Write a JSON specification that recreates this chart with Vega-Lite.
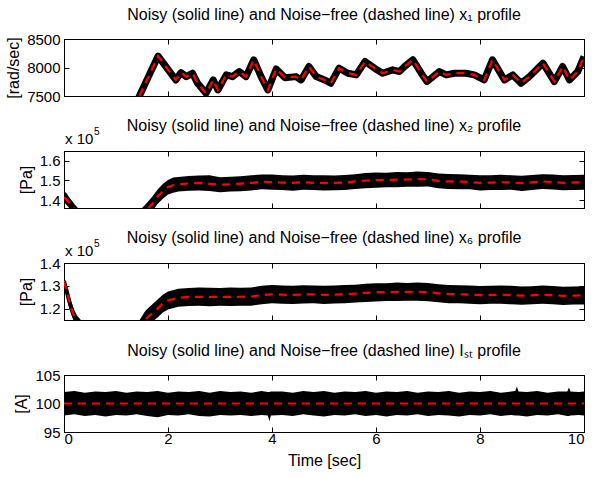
{
  "$schema": "https://vega.github.io/schema/vega-lite/v6.json",
  "padding": {"left": 5, "top": 6, "right": 0, "bottom": 0},
  "background": "white",
  "bounds": "flush",
  "spacing": 55,
  "config": {
    "view": {"stroke": "black", "strokeWidth": 1},
    "font": "Liberation Sans",
    "title": {"font": "Liberation Sans", "fontSize": 16, "fontWeight": "normal", "color": "black"},
    "axis": {"domainColor": "black", "tickColor": "black", "labelColor": "black", "titleColor": "black", "labelFont": "Liberation Sans", "titleFont": "Liberation Sans", "labelFontSize": 15, "titleFontSize": 16, "titleFontWeight": "normal", "grid": false, "tickSize": -5, "labelPadding": 9, "titlePadding": 5, "minExtent": 0},
    "axisY": {"minExtent": 0}
  },
  "datasets": {
    "p1": [
      {"t": 0, "v": 7000}, {"t": 1.38, "v": 7350}, {"t": 1.45, "v": 7500}, {"t": 1.81, "v": 8200}, {"t": 2.15, "v": 7782}, {"t": 2.25, "v": 7911}, {"t": 2.35, "v": 7840}, {"t": 2.47, "v": 7900}, {"t": 2.57, "v": 7723}, {"t": 2.73, "v": 7547}, {"t": 2.87, "v": 7782}, {"t": 2.96, "v": 7606}, {"t": 3.12, "v": 7870}, {"t": 3.24, "v": 7840}, {"t": 3.37, "v": 7929}, {"t": 3.5, "v": 7840}, {"t": 3.65, "v": 8135}, {"t": 3.79, "v": 7840}, {"t": 3.92, "v": 7606}, {"t": 4.08, "v": 7975}, {"t": 4.25, "v": 7820}, {"t": 4.46, "v": 7840}, {"t": 4.56, "v": 7782}, {"t": 4.71, "v": 8017}, {"t": 4.85, "v": 7840}, {"t": 5.01, "v": 7782}, {"t": 5.13, "v": 7723}, {"t": 5.29, "v": 7988}, {"t": 5.46, "v": 7900}, {"t": 5.62, "v": 7870}, {"t": 5.79, "v": 8105}, {"t": 5.97, "v": 7988}, {"t": 6.13, "v": 7900}, {"t": 6.32, "v": 7959}, {"t": 6.45, "v": 7929}, {"t": 6.55, "v": 8017}, {"t": 6.71, "v": 8135}, {"t": 6.87, "v": 7900}, {"t": 6.98, "v": 7752}, {"t": 7.22, "v": 7929}, {"t": 7.35, "v": 7870}, {"t": 7.51, "v": 7900}, {"t": 7.73, "v": 7900}, {"t": 7.89, "v": 7870}, {"t": 8.08, "v": 7782}, {"t": 8.24, "v": 8135}, {"t": 8.47, "v": 7782}, {"t": 8.63, "v": 7870}, {"t": 8.79, "v": 7723}, {"t": 8.95, "v": 7840}, {"t": 9.21, "v": 8076}, {"t": 9.43, "v": 7752}, {"t": 9.59, "v": 8017}, {"t": 9.72, "v": 7782}, {"t": 9.88, "v": 7929}, {"t": 10.0, "v": 8193}
    ],
    "p2": [
      {"t": 0, "v": 141500, "lo": 139000, "hi": 144500}, {"t": 0.05, "v": 140300, "lo": 137500, "hi": 143500}, {"t": 0.1, "v": 138700, "lo": 136000, "hi": 141500}, {"t": 0.15, "v": 137000, "lo": 134500, "hi": 139800}, {"t": 0.2, "v": 135300, "lo": 132500, "hi": 138000}, {"t": 0.3, "v": 132000, "lo": 129000, "hi": 135000}, {"t": 0.8, "v": 128000, "lo": 125000, "hi": 131000}, {"t": 1.3, "v": 130000, "lo": 127000, "hi": 133000}, {"t": 1.5, "v": 133000, "lo": 130000, "hi": 136000},
      {"t": 1.6, "v": 135200, "lo": 132000, "hi": 138800}, {"t": 1.7, "v": 138200, "lo": 134600, "hi": 141900}, {"t": 1.8, "v": 141800, "lo": 138000, "hi": 145400}, {"t": 1.9, "v": 144600, "lo": 140700, "hi": 148200}, {"t": 2.0, "v": 146700, "lo": 142900, "hi": 150300}, {"t": 2.1, "v": 147600, "lo": 143700, "hi": 151500}, {"t": 2.2, "v": 148100, "lo": 144400, "hi": 151800}, {"t": 2.4, "v": 148500, "lo": 144800, "hi": 152300}, {"t": 2.6, "v": 148800, "lo": 144900, "hi": 152500}, {"t": 2.8, "v": 148300, "lo": 144600, "hi": 152600}, {"t": 3.0, "v": 147900, "lo": 144000, "hi": 151700}, {"t": 3.2, "v": 148100, "lo": 144400, "hi": 151900}, {"t": 3.4, "v": 148400, "lo": 144500, "hi": 152100}, {"t": 3.6, "v": 148700, "lo": 144900, "hi": 152600}, {"t": 3.8, "v": 149400, "lo": 145600, "hi": 153100}, {"t": 4.0, "v": 149200, "lo": 145300, "hi": 153000}, {"t": 4.2, "v": 148900, "lo": 145100, "hi": 152700}, {"t": 4.4, "v": 148800, "lo": 144800, "hi": 152500}, {"t": 4.6, "v": 149100, "lo": 145300, "hi": 152900}, {"t": 4.8, "v": 148800, "lo": 145100, "hi": 152600}, {"t": 5.0, "v": 148800, "lo": 144900, "hi": 152700}, {"t": 5.2, "v": 148800, "lo": 145000, "hi": 152500}, {"t": 5.4, "v": 148900, "lo": 145200, "hi": 152800}, {"t": 5.6, "v": 149500, "lo": 145700, "hi": 153200}, {"t": 5.8, "v": 150000, "lo": 146100, "hi": 153800}, {"t": 6.0, "v": 150200, "lo": 146300, "hi": 154000}, {"t": 6.2, "v": 150300, "lo": 146600, "hi": 153900}, {"t": 6.4, "v": 150400, "lo": 146600, "hi": 154300}, {"t": 6.6, "v": 150500, "lo": 146800, "hi": 154200}, {"t": 6.8, "v": 150700, "lo": 146800, "hi": 154600}, {"t": 7.0, "v": 150600, "lo": 146900, "hi": 154300}, {"t": 7.2, "v": 149800, "lo": 146000, "hi": 153500}, {"t": 7.4, "v": 149500, "lo": 145700, "hi": 153300}, {"t": 7.6, "v": 149500, "lo": 145600, "hi": 153200}, {"t": 7.8, "v": 149200, "lo": 145500, "hi": 152900}, {"t": 8.0, "v": 148800, "lo": 144900, "hi": 152600}, {"t": 8.2, "v": 148900, "lo": 145200, "hi": 152600}, {"t": 8.4, "v": 149100, "lo": 145200, "hi": 152900}, {"t": 8.6, "v": 149000, "lo": 145300, "hi": 152700}, {"t": 8.8, "v": 148600, "lo": 144700, "hi": 152400}, {"t": 9.0, "v": 149000, "lo": 145200, "hi": 152800}, {"t": 9.2, "v": 149500, "lo": 145700, "hi": 153200}, {"t": 9.4, "v": 149200, "lo": 145400, "hi": 153000}, {"t": 9.6, "v": 148800, "lo": 145000, "hi": 152600}, {"t": 9.8, "v": 149000, "lo": 145100, "hi": 152800}, {"t": 10.0, "v": 149100, "lo": 145300, "hi": 152900}
    ],
    "p3": [
      {"t": 0, "v": 132000, "lo": 129500, "hi": 134500}, {"t": 0.05, "v": 127800, "lo": 125000, "hi": 130500}, {"t": 0.1, "v": 123300, "lo": 120500, "hi": 126000}, {"t": 0.15, "v": 119500, "lo": 116800, "hi": 122300}, {"t": 0.2, "v": 116500, "lo": 113800, "hi": 119300}, {"t": 0.25, "v": 114000, "lo": 111000, "hi": 117000}, {"t": 0.4, "v": 110000, "lo": 107000, "hi": 113000}, {"t": 1.0, "v": 106000, "lo": 103000, "hi": 109000}, {"t": 1.4, "v": 110000, "lo": 107000, "hi": 113000},
      {"t": 1.55, "v": 115000, "lo": 111500, "hi": 118500}, {"t": 1.6, "v": 116000, "lo": 112400, "hi": 119800}, {"t": 1.7, "v": 118000, "lo": 114200, "hi": 121900}, {"t": 1.8, "v": 120000, "lo": 116100, "hi": 124000}, {"t": 1.9, "v": 122200, "lo": 118300, "hi": 126100}, {"t": 2.0, "v": 123600, "lo": 119600, "hi": 127500}, {"t": 2.2, "v": 124700, "lo": 120800, "hi": 128700}, {"t": 2.4, "v": 125100, "lo": 121100, "hi": 129000}, {"t": 2.6, "v": 125200, "lo": 121200, "hi": 129300}, {"t": 2.8, "v": 125100, "lo": 121000, "hi": 129100}, {"t": 3.0, "v": 125100, "lo": 121200, "hi": 129000}, {"t": 3.2, "v": 125100, "lo": 121100, "hi": 129200}, {"t": 3.4, "v": 125200, "lo": 121300, "hi": 129100}, {"t": 3.6, "v": 125300, "lo": 121300, "hi": 129300}, {"t": 3.8, "v": 125900, "lo": 121900, "hi": 130000}, {"t": 4.0, "v": 126300, "lo": 122300, "hi": 130300}, {"t": 4.2, "v": 126100, "lo": 122100, "hi": 130100}, {"t": 4.4, "v": 126000, "lo": 122000, "hi": 130000}, {"t": 4.6, "v": 126200, "lo": 122200, "hi": 130200}, {"t": 4.8, "v": 126200, "lo": 122300, "hi": 130100}, {"t": 5.0, "v": 126000, "lo": 122000, "hi": 130000}, {"t": 5.2, "v": 126100, "lo": 122200, "hi": 130100}, {"t": 5.4, "v": 126300, "lo": 122300, "hi": 130300}, {"t": 5.6, "v": 126600, "lo": 122700, "hi": 130500}, {"t": 5.8, "v": 126900, "lo": 122900, "hi": 130900}, {"t": 6.0, "v": 127100, "lo": 123100, "hi": 131100}, {"t": 6.2, "v": 127200, "lo": 123300, "hi": 131100}, {"t": 6.4, "v": 127300, "lo": 123300, "hi": 131400}, {"t": 6.6, "v": 127300, "lo": 123400, "hi": 131200}, {"t": 6.8, "v": 127400, "lo": 123400, "hi": 131500}, {"t": 7.0, "v": 127200, "lo": 123200, "hi": 131200}, {"t": 7.2, "v": 126700, "lo": 122800, "hi": 130700}, {"t": 7.4, "v": 126400, "lo": 122400, "hi": 130400}, {"t": 7.6, "v": 126300, "lo": 122400, "hi": 130200}, {"t": 7.8, "v": 126100, "lo": 122100, "hi": 130100}, {"t": 8.0, "v": 125900, "lo": 121900, "hi": 129900}, {"t": 8.2, "v": 126000, "lo": 122100, "hi": 130000}, {"t": 8.4, "v": 126100, "lo": 122100, "hi": 130100}, {"t": 8.6, "v": 125900, "lo": 121900, "hi": 130000}, {"t": 8.8, "v": 125700, "lo": 121700, "hi": 129700}, {"t": 9.0, "v": 125800, "lo": 121900, "hi": 129800}, {"t": 9.2, "v": 126100, "lo": 122100, "hi": 130100}, {"t": 9.4, "v": 125900, "lo": 121900, "hi": 129900}, {"t": 9.6, "v": 125600, "lo": 121600, "hi": 129600}, {"t": 9.8, "v": 125700, "lo": 121800, "hi": 129700}, {"t": 10.0, "v": 125800, "lo": 121800, "hi": 129800}
    ],
    "p4": [
      {"t": 0, "v": 100, "lo": 97.9, "hi": 102.0}, {"t": 0.2, "v": 100, "lo": 98.1, "hi": 102.2}, {"t": 0.4, "v": 100, "lo": 97.8, "hi": 101.9}, {"t": 0.6, "v": 100, "lo": 98.0, "hi": 102.1}, {"t": 0.8, "v": 100, "lo": 97.7, "hi": 102.0}, {"t": 1.0, "v": 100, "lo": 98.0, "hi": 102.2}, {"t": 1.2, "v": 100, "lo": 97.9, "hi": 101.9}, {"t": 1.4, "v": 100, "lo": 98.1, "hi": 102.1}, {"t": 1.6, "v": 100, "lo": 97.8, "hi": 102.0}, {"t": 1.8, "v": 100, "lo": 97.6, "hi": 102.2}, {"t": 2.0, "v": 100, "lo": 98.0, "hi": 101.9}, {"t": 2.2, "v": 100, "lo": 97.9, "hi": 102.1}, {"t": 2.4, "v": 100, "lo": 98.1, "hi": 102.0}, {"t": 2.6, "v": 100, "lo": 97.8, "hi": 102.2}, {"t": 2.8, "v": 100, "lo": 97.7, "hi": 101.9}, {"t": 3.0, "v": 100, "lo": 98.0, "hi": 102.2}, {"t": 3.2, "v": 100, "lo": 97.9, "hi": 102.0}, {"t": 3.4, "v": 100, "lo": 98.0, "hi": 102.1}, {"t": 3.6, "v": 100, "lo": 97.8, "hi": 101.9}, {"t": 3.8, "v": 100, "lo": 98.0, "hi": 102.2}, {"t": 3.92, "v": 100, "lo": 97.9, "hi": 102.0}, {"t": 3.95, "v": 100, "lo": 96.9, "hi": 102.0}, {"t": 3.98, "v": 100, "lo": 97.9, "hi": 102.1}, {"t": 4.2, "v": 100, "lo": 98.0, "hi": 102.1}, {"t": 4.4, "v": 100, "lo": 97.8, "hi": 101.9}, {"t": 4.6, "v": 100, "lo": 98.1, "hi": 102.2}, {"t": 4.8, "v": 100, "lo": 97.9, "hi": 102.0}, {"t": 5.0, "v": 100, "lo": 97.7, "hi": 102.2}, {"t": 5.2, "v": 100, "lo": 98.0, "hi": 101.9}, {"t": 5.4, "v": 100, "lo": 97.9, "hi": 102.1}, {"t": 5.6, "v": 100, "lo": 98.1, "hi": 102.0}, {"t": 5.8, "v": 100, "lo": 97.8, "hi": 102.2}, {"t": 6.0, "v": 100, "lo": 98.0, "hi": 101.9}, {"t": 6.2, "v": 100, "lo": 97.7, "hi": 102.1}, {"t": 6.4, "v": 100, "lo": 98.0, "hi": 102.0}, {"t": 6.6, "v": 100, "lo": 97.9, "hi": 102.2}, {"t": 6.8, "v": 100, "lo": 98.1, "hi": 101.9}, {"t": 7.0, "v": 100, "lo": 97.8, "hi": 102.1}, {"t": 7.2, "v": 100, "lo": 98.0, "hi": 102.0}, {"t": 7.4, "v": 100, "lo": 97.9, "hi": 102.2}, {"t": 7.6, "v": 100, "lo": 97.7, "hi": 101.9}, {"t": 7.8, "v": 100, "lo": 98.0, "hi": 102.1}, {"t": 8.0, "v": 100, "lo": 97.9, "hi": 102.0}, {"t": 8.2, "v": 100, "lo": 98.1, "hi": 102.2}, {"t": 8.4, "v": 100, "lo": 97.8, "hi": 101.9}, {"t": 8.6, "v": 100, "lo": 98.0, "hi": 102.1}, {"t": 8.68, "v": 100, "lo": 97.9, "hi": 102.2}, {"t": 8.71, "v": 100, "lo": 97.9, "hi": 103.0}, {"t": 8.74, "v": 100, "lo": 97.9, "hi": 102.1}, {"t": 8.9, "v": 100, "lo": 97.7, "hi": 102.0}, {"t": 9.1, "v": 100, "lo": 98.0, "hi": 102.2}, {"t": 9.3, "v": 100, "lo": 97.9, "hi": 101.9}, {"t": 9.5, "v": 100, "lo": 98.1, "hi": 102.1}, {"t": 9.68, "v": 100, "lo": 97.8, "hi": 102.1}, {"t": 9.71, "v": 100, "lo": 97.8, "hi": 102.8}, {"t": 9.74, "v": 100, "lo": 97.9, "hi": 102.1}, {"t": 9.9, "v": 100, "lo": 98.0, "hi": 102.0}, {"t": 10.0, "v": 100, "lo": 97.9, "hi": 102.1}
    ]
  },
  "vconcat": [
    {
      "width": 520, "height": 57,
      "title": {"text": "Noisy (solid line) and Noise−free (dashed line) x₁ profile", "offset": 9},
      "data": {"name": "p1"},
      "layer": [
        {"mark": {"type": "line", "color": "black", "strokeWidth": 7, "clip": true, "strokeJoin": "round"},
         "encoding": {
           "x": {"field": "t", "type": "quantitative", "scale": {"domain": [0, 10], "nice": false}, "axis": {"values": [0, 2, 4, 6, 8, 10], "labels": false, "title": null}},
           "y": {"field": "v", "type": "quantitative", "scale": {"domain": [7500, 8500], "nice": false, "zero": false}, "axis": {"values": [7500, 8000, 8500], "format": "d", "title": "[rad/sec]"}}}},
        {"mark": {"type": "line", "color": "#ff0000", "strokeWidth": 2.2, "strokeDash": [8, 6], "clip": true},
         "encoding": {
           "x": {"field": "t", "type": "quantitative", "scale": {"domain": [0, 10], "nice": false}, "axis": {"orient": "top", "values": [0, 2, 4, 6, 8, 10], "labels": false, "title": null, "domain": false}},
           "y": {"field": "v", "type": "quantitative", "scale": {"domain": [7500, 8500], "nice": false, "zero": false}, "axis": {"orient": "right", "values": [7500, 8000, 8500], "labels": false, "title": null, "domain": false, "minExtent": 0, "maxExtent": 0}}}}
      ],
      "resolve": {"axis": {"x": "independent", "y": "independent"}}
    },
    {
      "width": 520, "height": 57,
      "title": {"text": "Noisy (solid line) and Noise−free (dashed line) x₂ profile", "offset": -7},
      "data": {"name": "p2"},
      "layer": [
        {"mark": {"type": "area", "color": "black", "clip": true},
         "encoding": {
           "x": {"field": "t", "type": "quantitative", "scale": {"domain": [0, 10], "nice": false}, "axis": {"values": [0, 2, 4, 6, 8, 10], "labels": false, "title": null}},
           "y": {"field": "lo", "type": "quantitative", "scale": {"domain": [136000, 165000], "nice": false, "zero": false}, "axis": {"values": [140000, 150000, 160000], "labelExpr": "format(datum.value/100000, '.1f')", "title": "[Pa]"}},
           "y2": {"field": "hi"}}},
        {"mark": {"type": "line", "color": "black", "strokeWidth": 4, "clip": true},
         "encoding": {
           "x": {"field": "t", "type": "quantitative", "axis": null},
           "y": {"field": "v", "type": "quantitative", "axis": null}}},
        {"mark": {"type": "line", "color": "#ff0000", "strokeWidth": 2.2, "strokeDash": [8, 6], "clip": true},
         "encoding": {
           "x": {"field": "t", "type": "quantitative", "axis": {"orient": "top", "values": [0, 2, 4, 6, 8, 10], "labels": false, "title": null, "domain": false}},
           "y": {"field": "v", "type": "quantitative", "axis": {"orient": "right", "values": [140000, 150000, 160000], "labels": false, "title": null, "domain": false, "minExtent": 0, "maxExtent": 0}}}},
        {"data": {"values": [{}]},
         "mark": {"type": "text", "text": "x 10", "align": "left", "baseline": "alphabetic", "dx": 1, "dy": -7, "fontSize": 15, "font": "Liberation Sans", "color": "black"},
         "encoding": {
           "x": {"datum": 0, "type": "quantitative", "axis": null},
           "y": {"datum": 165000, "type": "quantitative", "axis": null}}},
        {"data": {"values": [{}]},
         "mark": {"type": "text", "text": "5", "align": "left", "baseline": "alphabetic", "dx": 30, "dy": -16, "fontSize": 10, "font": "Liberation Sans", "color": "black"},
         "encoding": {
           "x": {"datum": 0, "type": "quantitative", "axis": null},
           "y": {"datum": 165000, "type": "quantitative", "axis": null}}}
      ],
      "resolve": {"axis": {"x": "independent", "y": "independent"}}
    },
    {
      "width": 520, "height": 57,
      "title": {"text": "Noisy (solid line) and Noise−free (dashed line) x₆ profile", "offset": -7},
      "data": {"name": "p3"},
      "layer": [
        {"mark": {"type": "area", "color": "black", "clip": true},
         "encoding": {
           "x": {"field": "t", "type": "quantitative", "scale": {"domain": [0, 10], "nice": false}, "axis": {"values": [0, 2, 4, 6, 8, 10], "labels": false, "title": null}},
           "y": {"field": "lo", "type": "quantitative", "scale": {"domain": [115000, 140000], "nice": false, "zero": false}, "axis": {"values": [120000, 130000, 140000], "labelExpr": "format(datum.value/100000, '.1f')", "title": "[Pa]"}},
           "y2": {"field": "hi"}}},
        {"mark": {"type": "line", "color": "black", "strokeWidth": 4, "clip": true},
         "encoding": {
           "x": {"field": "t", "type": "quantitative", "axis": null},
           "y": {"field": "v", "type": "quantitative", "axis": null}}},
        {"mark": {"type": "line", "color": "#ff0000", "strokeWidth": 2.2, "strokeDash": [8, 6], "clip": true},
         "encoding": {
           "x": {"field": "t", "type": "quantitative", "axis": {"orient": "top", "values": [0, 2, 4, 6, 8, 10], "labels": false, "title": null, "domain": false}},
           "y": {"field": "v", "type": "quantitative", "axis": {"orient": "right", "values": [120000, 130000, 140000], "labels": false, "title": null, "domain": false, "minExtent": 0, "maxExtent": 0}}}},
        {"data": {"values": [{}]},
         "mark": {"type": "text", "text": "x 10", "align": "left", "baseline": "alphabetic", "dx": 1, "dy": -7, "fontSize": 15, "font": "Liberation Sans", "color": "black"},
         "encoding": {
           "x": {"datum": 0, "type": "quantitative", "axis": null},
           "y": {"datum": 140000, "type": "quantitative", "axis": null}}},
        {"data": {"values": [{}]},
         "mark": {"type": "text", "text": "5", "align": "left", "baseline": "alphabetic", "dx": 30, "dy": -16, "fontSize": 10, "font": "Liberation Sans", "color": "black"},
         "encoding": {
           "x": {"datum": 0, "type": "quantitative", "axis": null},
           "y": {"datum": 140000, "type": "quantitative", "axis": null}}}
      ],
      "resolve": {"axis": {"x": "independent", "y": "independent"}}
    },
    {
      "width": 520, "height": 57,
      "title": {"text": "Noisy (solid line) and Noise−free (dashed line) Iₛₜ profile", "offset": 9},
      "data": {"name": "p4"},
      "layer": [
        {"mark": {"type": "area", "color": "black", "clip": true},
         "encoding": {
           "x": {"field": "t", "type": "quantitative", "scale": {"domain": [0, 10], "nice": false}, "axis": {"values": [0, 2, 4, 6, 8, 10], "title": "Time [sec]", "labelPadding": 4, "titlePadding": 6}},
           "y": {"field": "lo", "type": "quantitative", "scale": {"domain": [95, 105], "nice": false, "zero": false}, "axis": {"values": [95, 100, 105], "title": "[A]"}},
           "y2": {"field": "hi"}}},
        {"mark": {"type": "line", "color": "#ff0000", "strokeWidth": 2.2, "strokeDash": [8, 6], "clip": true},
         "encoding": {
           "x": {"field": "t", "type": "quantitative", "axis": {"orient": "top", "values": [0, 2, 4, 6, 8, 10], "labels": false, "title": null, "domain": false}},
           "y": {"field": "v", "type": "quantitative", "axis": {"orient": "right", "values": [95, 100, 105], "labels": false, "title": null, "domain": false, "minExtent": 0, "maxExtent": 0}}}}
      ],
      "resolve": {"axis": {"x": "independent", "y": "independent"}}
    }
  ]
}
